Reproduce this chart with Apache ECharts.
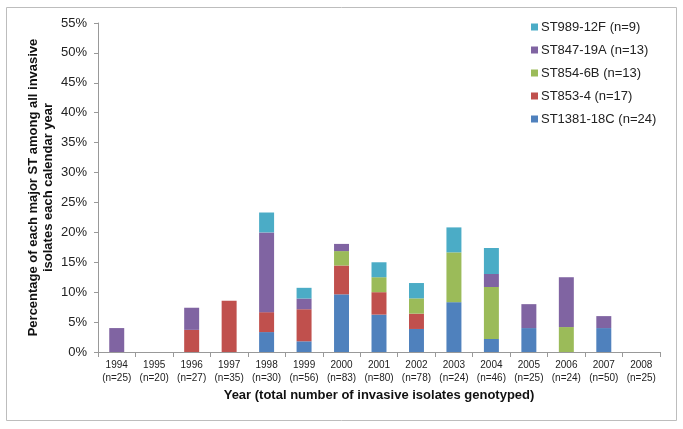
<!DOCTYPE html>
<html>
<head>
<meta charset="utf-8">
<script src="https://cdn.jsdelivr.net/npm/echarts@6/dist/echarts.min.js"></script>
<style>
html,body{margin:0;padding:0;background:#fff;}
#chart{width:683px;height:429px;}
</style>
</head>
<body>
<div id="chart"></div>
<script>
const years = ['1994','1995','1996','1997','1998','1999','2000','2001','2002','2003','2004','2005','2006','2007','2008'];
const totals = [25,20,27,35,30,56,83,80,78,24,46,25,24,50,25];
const st1381 = [0,0,0,0,3.33,1.79,9.64,6.25,3.85,8.33,2.17,4.00,0,4.00,0];
const st853  = [0,0,3.70,8.57,3.33,5.36,4.82,3.75,2.56,0,0,0,0,0,0];
const st854  = [0,0,0,0,0,0,2.41,2.50,2.56,8.33,8.70,0,4.17,0,0];
const st847  = [4.00,0,3.70,0,13.33,1.79,1.20,0,0,0,2.17,4.00,8.33,2.00,0];
const st989  = [0,0,0,0,3.33,1.79,0,2.50,2.56,4.17,4.35,0,0,0,0];
const seriesNames = ['ST1381-18C (n=24)','ST853-4 (n=17)','ST854-6B (n=13)','ST847-19A (n=13)','ST989-12F (n=9)'];
const seriesColors = ['#4F81BD','#C0504D','#9BBB59','#8064A2','#4BACC6'];
const yTicks = {min:0, max:55, interval:5};

const categories = years.map((y,i)=> y + '\n(n=' + totals[i] + ')');
const dataSets = [st1381, st853, st854, st847, st989];

const chart = echarts.init(document.getElementById('chart'), null, {renderer:'canvas'});
const font = 'Liberation Sans, Arial, sans-serif';
chart.setOption({
  animation:false,
  textStyle:{fontFamily:font},
  graphic:[{type:'rect', shape:{x:6.5,y:7.5,width:670,height:413}, style:{fill:'none', stroke:'#bdbdbd', lineWidth:1}, silent:true}],
  grid:{left:98, right:23, top:23, bottom:77},
  legend:{
    orient:'vertical', left:526, top:15,
    data: seriesNames.slice().reverse(),
    icon:'rect', itemWidth:7, itemHeight:7, itemGap:9,
    textStyle:{fontSize:13, color:'#222', fontFamily:font, lineHeight:14, padding:[0,0,0,-2]}
  },
  xAxis:{
    type:'category', data:categories,
    name:'Year (total number of invasive isolates genotyped)',
    nameLocation:'middle', nameGap:37, nameMoveOverlap:false,
    nameTextStyle:{fontSize:13, fontWeight:'bold', color:'#111', fontFamily:font},
    axisLine:{lineStyle:{color:'#999'}},
    axisTick:{show:true, length:5, lineStyle:{color:'#999'}},
    axisLabel:{fontSize:10, color:'#222', lineHeight:13, margin:7, interval:0, fontFamily:font}
  },
  yAxis:{
    type:'value', min:yTicks.min, max:yTicks.max, interval:yTicks.interval,
    name:'Percentage of each major ST among all invasive\nisolates each calendar year',
    nameLocation:'middle', nameGap:42, nameRotate:90, nameMoveOverlap:false,
    nameTextStyle:{fontSize:13, fontWeight:'bold', color:'#111', lineHeight:15, fontFamily:font},
    axisLine:{show:true, lineStyle:{color:'#999'}},
    axisTick:{show:true, length:4, lineStyle:{color:'#999'}},
    splitLine:{show:false},
    axisLabel:{fontSize:13, color:'#222', margin:11, formatter:'{value}%', fontFamily:font}
  },
  series: dataSets.map((d,i)=>({
    name:seriesNames[i], type:'bar', stack:'total', data:d,
    barWidth:'40%', itemStyle:{color:seriesColors[i]}
  }))
});
</script>
</body>
</html>
